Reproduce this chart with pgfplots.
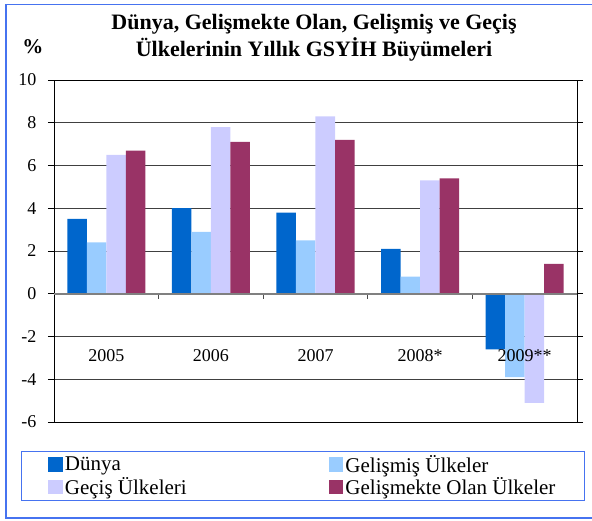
\documentclass[border=0pt]{standalone}
\usepackage{fontspec}
\setmainfont{Liberation Serif}
\usepackage{pgfplots}
\pgfplotsset{compat=1.18}
\definecolor{cDunya}{HTML}{0066CC}
\definecolor{cGelismis}{HTML}{99CCFF}
\definecolor{cGecis}{HTML}{CCCCFF}
\definecolor{cGelismekte}{HTML}{993366}
\definecolor{bordblue}{RGB}{70,115,240}
\begin{document}
\begin{tikzpicture}[x=1pt,y=1pt]
\useasboundingbox (0,0) rectangle (592,520);
\draw[bordblue, line width=1.2pt] (595,2) -- (6,2) -- (6,515.5) -- (595,515.5);
\node[font=\bfseries\fontsize{22}{27}\selectfont, align=center] at (314,482) {Dünya, Gelişmekte Olan, Gelişmiş ve Geçiş\\Ülkelerinin Yıllık GSYİH Büyümeleri};
\node[font=\bfseries\fontsize{21}{24}\selectfont] at (33,473) {\%};
\begin{axis}[
  at={(54pt,98pt)}, anchor=south west, scale only axis,
  width=523pt, height=342pt,
  xmin=-0.5, xmax=4.5, ymin=-6, ymax=10,
  ybar=0pt, bar width=0.1865,
  ytick={-6,-4,...,10}, yticklabels={-6,-4,-2,0,2,4,6,8,10},
  ymajorgrids, major grid style={black!75, line width=0.7pt},
  xtick=\empty,
  ytick style={black, line width=0.8pt},
  tick align=outside, major tick length=6pt,
  tick label style={font=\rmfamily\fontsize{18}{20}\selectfont},
  yticklabel style={xshift=-8pt},
  axis line style={black, line width=0.8pt},
  legend columns=2,
  legend cell align=left,
  legend style={at={(-0.0637,-0.0839)}, anchor=north west, draw=bordblue, line width=1pt,
    font=\fontsize{21}{24}\selectfont, inner xsep=27pt, inner ysep=2pt,
    nodes={inner sep=2pt},
    /tikz/every even column/.append style={column sep=140pt}},
  legend image code/.code={\fill[#1] (0pt,-7.3pt) rectangle (14.7pt,7.3pt);},
]
\addplot[fill=cDunya, draw=none] coordinates {(0,3.5) (1,4.0) (2,3.8) (3,2.1) (4,-2.6)};
\addplot[fill=cGelismis, draw=none] coordinates {(0,2.4) (1,2.9) (2,2.5) (3,0.8) (4,-3.9)};
\addplot[fill=cGecis, draw=none] coordinates {(0,6.5) (1,7.8) (2,8.3) (3,5.3) (4,-5.1)};
\addplot[fill=cGelismekte, draw=none] coordinates {(0,6.7) (1,7.1) (2,7.2) (3,5.4) (4,1.4)};
\legend{Dünya, Gelişmiş Ülkeler, Geçiş Ülkeleri, Gelişmekte Olan Ülkeler}
\end{axis}
\begin{axis}[
  at={(54pt,98pt)}, anchor=south west, scale only axis,
  width=523pt, height=342pt,
  xmin=-0.5, xmax=4.5, ymin=-6, ymax=10,
  axis x line*=middle, axis y line=none,
  xtick={0.5,1.5,2.5,3.5}, xticklabels={}, ytick=\empty,
  extra x ticks={0,1,2,3,4},
  extra x tick labels={2005,2006,2007,2008*,2009**},
  extra x tick style={major tick length=0pt, xtick style={draw=none},
    xticklabel style={anchor=center, yshift=-61.5pt}},
  tick label style={font=\rmfamily\fontsize{18}{20}\selectfont},
  tick align=outside, major tick length=5pt,
  xtick style={black!70, line width=0.8pt},
  x axis line style={black!50, line width=1.8pt, -},
]
\end{axis}
\end{tikzpicture}
\end{document}
